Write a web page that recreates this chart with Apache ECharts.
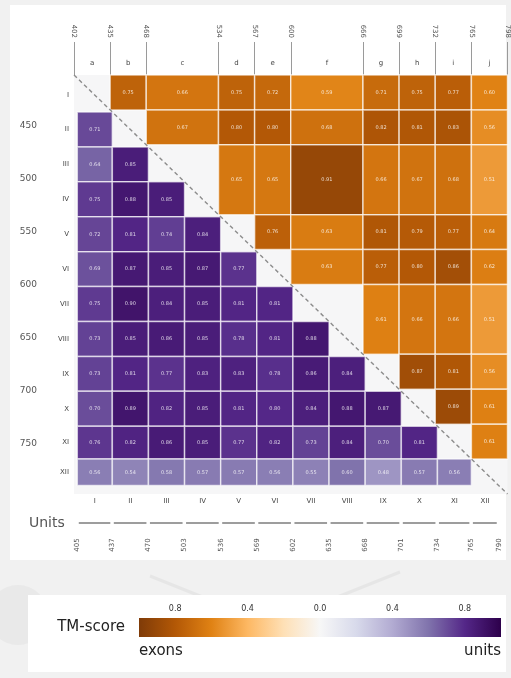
<!DOCTYPE html>
<html>
<head>
<meta charset="utf-8">
<script src="https://cdn.jsdelivr.net/npm/echarts@6/dist/echarts.min.js"></script>
<style>
  html, body { margin: 0; padding: 0; background: #f1f1f1; }
  #chart { width: 511px; height: 678px; }
</style>
</head>
<body>
<div id="chart"></div>
<script>
// Exon and unit boundaries (residue numbers)
const exonNames = ['a', 'b', 'c', 'd', 'e', 'f', 'g', 'h', 'i', 'j'];
const exonBounds = [402, 435, 468, 534, 567, 600, 666, 699, 732, 765, 798];
const unitNames = ['I', 'II', 'III', 'IV', 'V', 'VI', 'VII', 'VIII', 'IX', 'X', 'XI', 'XII'];
const unitBounds = [405, 437, 470, 503, 536, 569, 602, 635, 668, 701, 734, 765, 790];
const residueTicks = [450, 500, 550, 600, 650, 700, 750];

// TM-scores between exons (upper triangle, row = exon, values for the following exons)
const exonScores = [
  [0.75, 0.66, 0.75, 0.72, 0.59, 0.71, 0.75, 0.77, 0.60],
  [0.67, 0.80, 0.80, 0.68, 0.82, 0.81, 0.83, 0.56],
  [0.65, 0.65, 0.91, 0.66, 0.67, 0.68, 0.51],
  [0.76, 0.63, 0.81, 0.79, 0.77, 0.64],
  [0.63, 0.77, 0.80, 0.86, 0.62],
  [0.61, 0.66, 0.66, 0.51],
  [0.87, 0.81, 0.56],
  [0.89, 0.61],
  [0.61]
];

// TM-scores between units (lower triangle, row = unit II..XII, values for units I..row-1)
const unitScores = [
  [0.71],
  [0.64, 0.85],
  [0.75, 0.88, 0.85],
  [0.72, 0.81, 0.74, 0.84],
  [0.69, 0.87, 0.85, 0.87, 0.77],
  [0.75, 0.90, 0.84, 0.85, 0.81, 0.81],
  [0.73, 0.85, 0.86, 0.85, 0.78, 0.81, 0.88],
  [0.73, 0.81, 0.77, 0.83, 0.83, 0.78, 0.86, 0.84],
  [0.70, 0.89, 0.82, 0.85, 0.81, 0.80, 0.84, 0.88, 0.87],
  [0.76, 0.82, 0.86, 0.85, 0.77, 0.82, 0.73, 0.84, 0.70, 0.81],
  [0.56, 0.54, 0.58, 0.57, 0.57, 0.56, 0.55, 0.60, 0.48, 0.57, 0.56]
];

const colorbarTicks = [-0.8, -0.4, 0.0, 0.4, 0.8];

// Diverging orange-purple palette (exons negative, units positive)
const puor = ['#7f3b08', '#b35806', '#e08214', '#fdb863', '#fee0b6', '#f7f7f7',
              '#d8daeb', '#b2abd2', '#8073ac', '#542788', '#2d004b'];

const FONT = 'DejaVu Sans';
const LO = exonBounds[0], HI = exonBounds[exonBounds.length - 1];

// Cells: [x0, x1, y0, y1, signed score]
const cells = [];
exonScores.forEach((row, r) => {
  row.forEach((v, k) => {
    const c = r + 1 + k;
    cells.push([exonBounds[c], exonBounds[c + 1], exonBounds[r], exonBounds[r + 1], -v]);
  });
});
unitScores.forEach((row, k) => {
  const r = k + 1;
  row.forEach((v, c) => {
    cells.push([unitBounds[c], unitBounds[c + 1], unitBounds[r], unitBounds[r + 1], v]);
  });
});

const unitSpans = unitNames.map((n, i) => [unitBounds[i], unitBounds[i + 1]]);
const exonSpans = exonNames.map((n, i) => [exonBounds[i], exonBounds[i + 1]]);

const chart = echarts.init(document.getElementById('chart'), null, { renderer: 'canvas' });

const bar = { x: 139, y: 618, w: 362, h: 19 };
const graphics = [
  { type: 'circle', shape: { cx: 18, cy: 615, r: 30 }, style: { fill: '#e9e9e9' }, z: -20 },
  { type: 'line', shape: { x1: 150, y1: 576, x2: 210, y2: 600 }, style: { stroke: '#e6e6e6', lineWidth: 3 }, z: -20 },
  { type: 'line', shape: { x1: 330, y1: 600, x2: 400, y2: 572 }, style: { stroke: '#e6e6e6', lineWidth: 3 }, z: -20 },
  { type: 'rect', shape: { x: 10, y: 5, width: 496, height: 555 }, style: { fill: '#ffffff' }, z: -10 },
  { type: 'rect', shape: { x: 28, y: 595, width: 478, height: 77 }, style: { fill: '#ffffff' }, z: -10 },
  {
    type: 'rect', shape: { x: bar.x, y: bar.y, width: bar.w, height: bar.h },
    style: {
      fill: new echarts.graphic.LinearGradient(0, 0, 1, 0,
        puor.map((c, i) => ({ offset: i / (puor.length - 1), color: c })))
    }
  },
  { type: 'text', style: { text: 'TM-score', x: 125, y: bar.y + bar.h / 2, align: 'right', verticalAlign: 'middle', font: '15px "DejaVu Sans"', fill: '#222' } },
  { type: 'text', style: { text: 'exons', x: bar.x, y: 651, align: 'left', verticalAlign: 'middle', font: '15px "DejaVu Sans"', fill: '#222' } },
  { type: 'text', style: { text: 'units', x: bar.x + bar.w, y: 651, align: 'right', verticalAlign: 'middle', font: '15px "DejaVu Sans"', fill: '#222' } },
  { type: 'text', style: { text: 'Units', x: 29, y: 523, align: 'left', verticalAlign: 'middle', font: '14px "DejaVu Sans"', fill: '#555' } }
];
colorbarTicks.forEach(t => {
  graphics.push({
    type: 'text',
    style: {
      text: Math.abs(t).toFixed(1), x: bar.x + bar.w / 2 + t * bar.w / 2, y: 609,
      align: 'center', verticalAlign: 'middle', font: '8px "DejaVu Sans"', fill: '#333'
    }
  });
});

const option = {
  backgroundColor: 'transparent',
  animation: false,
  textStyle: { fontFamily: FONT },
  grid: { left: 74, top: 75, width: 435, height: 419, show: true, backgroundColor: '#f6f6f7', borderWidth: 0 },
  xAxis: {
    type: 'value', min: LO, max: HI, position: 'top',
    axisLine: { show: false },
    splitLine: { show: false },
    axisTick: { show: true, customValues: exonBounds, length: 33, lineStyle: { color: '#9a9a9a', width: 1 } },
    axisLabel: { customValues: exonBounds, rotate: 90, margin: 37, fontSize: 7, color: '#555', fontFamily: FONT }
  },
  yAxis: {
    type: 'value', min: LO, max: HI, inverse: true,
    axisLine: { show: false }, axisTick: { show: false }, splitLine: { show: false },
    axisLabel: { customValues: residueTicks, margin: 37, fontSize: 9, color: '#555', fontFamily: FONT }
  },
  visualMap: {
    show: false, type: 'continuous', min: -1, max: 1, dimension: 4, seriesIndex: 0,
    inRange: { color: puor }
  },
  graphic: { elements: graphics },
  series: [
    {
      type: 'custom', name: 'scores', data: cells,
      renderItem: function (params, api) {
        const p0 = api.coord([api.value(0), api.value(2)]);
        const p1 = api.coord([api.value(1), api.value(3)]);
        const x = Math.min(p0[0], p1[0]), y = Math.min(p0[1], p1[1]);
        const w = Math.abs(p1[0] - p0[0]), h = Math.abs(p1[1] - p0[1]);
        return {
          type: 'group',
          children: [
            { type: 'rect', shape: { x: x, y: y, width: w, height: h },
              style: { fill: api.visual('color'), stroke: 'rgba(255,255,255,0.65)', lineWidth: 1.5 } },
            { type: 'text', style: { text: Math.abs(api.value(4)).toFixed(2), x: x + w / 2, y: y + h / 2,
              align: 'center', verticalAlign: 'middle', font: '5px "DejaVu Sans"', fill: 'rgba(255,255,255,0.8)' } }
          ]
        };
      }
    },
    {
      type: 'line', data: [[LO, LO], [HI, HI]], symbol: 'none', silent: true, z: 5,
      lineStyle: { color: '#8c8c8c', width: 1.4, type: [4, 3] }
    },
    {
      // unit names along rows
      type: 'custom', data: unitSpans, silent: true,
      renderItem: function (params, api) {
        const p = api.coord([LO, (api.value(0) + api.value(1)) / 2]);
        return { type: 'text', style: { text: unitNames[params.dataIndex], x: p[0] - 5, y: p[1],
          align: 'right', verticalAlign: 'middle', font: '7px "DejaVu Sans"', fill: '#444' } };
      }
    },
    {
      // unit names along columns
      type: 'custom', data: unitSpans, silent: true,
      renderItem: function (params, api) {
        const p = api.coord([(api.value(0) + api.value(1)) / 2, HI]);
        return { type: 'text', style: { text: unitNames[params.dataIndex], x: p[0], y: p[1] + 7,
          align: 'center', verticalAlign: 'middle', font: '7px "DejaVu Sans"', fill: '#444' } };
      }
    },
    {
      // exon letters along the top
      type: 'custom', data: exonSpans, silent: true,
      renderItem: function (params, api) {
        const p = api.coord([(api.value(0) + api.value(1)) / 2, LO]);
        return { type: 'text', style: { text: exonNames[params.dataIndex], x: p[0], y: p[1] - 12,
          align: 'center', verticalAlign: 'middle', font: '7px "DejaVu Sans"', fill: '#444' } };
      }
    },
    {
      // unit ruler below the matrix
      type: 'custom', data: unitSpans, silent: true,
      renderItem: function (params, api) {
        const a = api.coord([api.value(0), HI]);
        const b = api.coord([api.value(1), HI]);
        const y = a[1] + 29;
        const children = [
          { type: 'line', shape: { x1: a[0] + 1.5, y1: y, x2: b[0] - 2, y2: y },
            style: { stroke: '#9d9d9d', lineWidth: 2 } },
          { type: 'text', x: a[0], y: y + 22, rotation: Math.PI / 2,
            style: { text: String(api.value(0)), x: 0, y: 0, align: 'center', verticalAlign: 'middle',
              font: '7px "DejaVu Sans"', fill: '#555' } }
        ];
        if (params.dataIndex === unitSpans.length - 1) {
          children.push({ type: 'text', x: b[0], y: y + 22, rotation: Math.PI / 2,
            style: { text: String(api.value(1)), x: 0, y: 0, align: 'center', verticalAlign: 'middle',
              font: '7px "DejaVu Sans"', fill: '#555' } });
        }
        return { type: 'group', children: children };
      }
    }
  ]
};

chart.setOption(option);
</script>
</body>
</html>
